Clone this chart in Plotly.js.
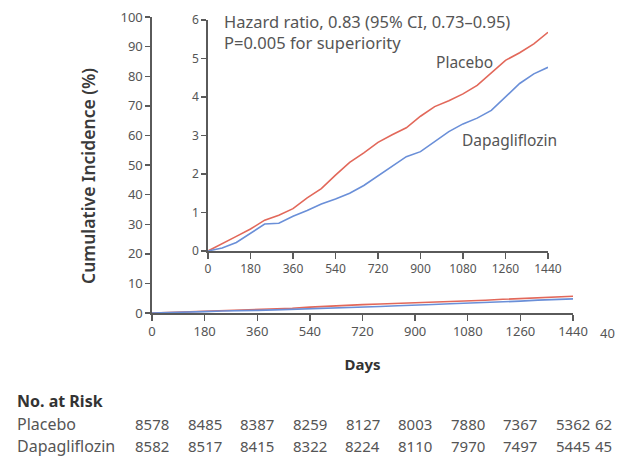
<!DOCTYPE html>
<html>
<head>
<meta charset="utf-8">
<script src="https://cdn.plot.ly/plotly-3.0.1.min.js"></script>
<style>html,body{margin:0;padding:0;background:#fff;}#chart{width:618px;height:457px;}</style>
</head>
<body>
<div id="chart"></div>
<script>
// ---- data ----
const days = [0,60,120,180,240,300,360,420,480,540,600,660,720,780,840,900,960,1020,1080,1140,1200,1260,1320,1380,1440];
const placebo = [0,0.2,0.38,0.57,0.8,0.93,1.1,1.38,1.62,1.97,2.3,2.55,2.82,3.02,3.2,3.5,3.75,3.9,4.08,4.3,4.62,4.95,5.15,5.38,5.68];
const dapagliflozin = [0,0.08,0.22,0.47,0.7,0.72,0.9,1.05,1.22,1.35,1.5,1.7,1.95,2.2,2.45,2.58,2.85,3.1,3.3,3.45,3.65,4.0,4.35,4.6,4.77];
const riskPlacebo = [8578,8485,8387,8259,8127,8003,7880,7367,5362,62];
const riskDapa = [8582,8517,8415,8322,8224,8110,7970,7497,5445,45];
const xTicks = [0,180,360,540,720,900,1080,1260,1440];
const extraTickLabel = "40";
const mainYTicks = [0,10,20,30,40,50,60,70,80,90,100];
const insetYTicks = [0,1,2,3,4,5,6];
const groupNames = ["Placebo","Dapagliflozin"];

const RED = "#e2685a", BLUE = "#6a8fd8", AXIS = "#5a5a5a", TXT = "#555555";
const FONT = "Noto Sans, Open Sans, sans-serif";

const traces = [
  {x: days, y: placebo, type: "scatter", mode: "lines", line: {color: RED, width: 1.6}, xaxis: "x", yaxis: "y", hoverinfo: "skip"},
  {x: days, y: dapagliflozin, type: "scatter", mode: "lines", line: {color: BLUE, width: 1.6}, xaxis: "x", yaxis: "y", hoverinfo: "skip"},
  {x: days, y: placebo, type: "scatter", mode: "lines", line: {color: RED, width: 1.6}, xaxis: "x2", yaxis: "y2", hoverinfo: "skip"},
  {x: days, y: dapagliflozin, type: "scatter", mode: "lines", line: {color: BLUE, width: 1.6}, xaxis: "x2", yaxis: "y2", hoverinfo: "skip"}
];

const ann = [];
const A = (o) => ann.push(Object.assign({showarrow: false, xanchor: "center", yanchor: "middle"}, o));
A({xref: "paper", yref: "paper", x: -0.152, y: 0.463, text: "Cumulative Incidence (%)", textangle: -90,
  font: {family: FONT, size: 17.5, color: "#3a3a3a", weight: 600}});
A({xref: "paper", yref: "paper", x: 1.083, y: -0.068, text: extraTickLabel,
  font: {family: FONT, size: 13, color: TXT}});
A({xref: "paper", yref: "paper", x: 0.166, y: 1.03, xanchor: "left", yanchor: "top", align: "left",
  text: "Hazard ratio, 0.83 (95% CI, 0.73–0.95)<br>P=0.005 for superiority",
  font: {family: FONT, size: 16.5, color: TXT}});
A({xref: "x2", yref: "y2", x: 1088, y: 4.91, text: groupNames[0], font: {family: FONT, size: 15.5, color: TXT}});
A({xref: "x2", yref: "y2", x: 1279, y: 2.88, text: groupNames[1], font: {family: FONT, size: 15.5, color: TXT}});
// No. at Risk table
const rowY = [-0.375, -0.449];
A({xref: "paper", yref: "paper", x: -0.325, y: -0.297, xanchor: "left", text: "No. at Risk",
  font: {family: FONT, size: 16, color: "#333", weight: 700}});
groupNames.forEach((g, r) => A({xref: "paper", yref: "paper", x: -0.325, y: rowY[r], xanchor: "left", text: g,
  font: {family: FONT, size: 16, color: TXT}}));
[riskPlacebo, riskDapa].forEach((row, r) => row.forEach((v, i) => {
  const a = {yref: "paper", y: rowY[r], text: String(v), font: {family: FONT, size: 15, color: TXT}};
  if (i < xTicks.length) { a.xref = "x"; a.x = xTicks[i]; } else { a.xref = "paper"; a.x = 1.073; }
  A(a);
}));

const axisCommon = {showgrid: false, zeroline: false, showline: true, linecolor: AXIS, linewidth: 1.6,
  ticks: "outside", tickcolor: AXIS, tickwidth: 1.4, fixedrange: true};

const layout = {
  width: 618, height: 457,
  margin: {l: 152, r: 45, t: 17, b: 144},
  paper_bgcolor: "#fff", plot_bgcolor: "rgba(0,0,0,0)",
  showlegend: false,
  font: {family: FONT, color: TXT},
  xaxis: Object.assign({}, axisCommon, {range: [0, 1440], tickvals: xTicks, ticklen: 6,
    tickfont: {family: FONT, size: 13, color: TXT},
    title: {text: "Days", standoff: 20, font: {family: FONT, size: 15, color: "#333", weight: 700}}}),
  yaxis: Object.assign({}, axisCommon, {range: [0, 100], tickvals: mainYTicks, ticklen: 5,
    tickfont: {family: FONT, size: 13, color: TXT}}),
  xaxis2: Object.assign({}, axisCommon, {domain: [0.133, 0.9406], anchor: "y2", range: [0, 1440], tickvals: xTicks, ticklen: 6,
    tickfont: {family: FONT, size: 12, color: TXT}}),
  yaxis2: Object.assign({}, axisCommon, {domain: [0.2095, 0.99], anchor: "x2", range: [0, 6], tickvals: insetYTicks, ticklen: 5,
    tickfont: {family: FONT, size: 12, color: TXT}}),
  annotations: ann
};

Plotly.newPlot("chart", traces, layout, {staticPlot: true, displayModeBar: false});
</script>
</body>
</html>
